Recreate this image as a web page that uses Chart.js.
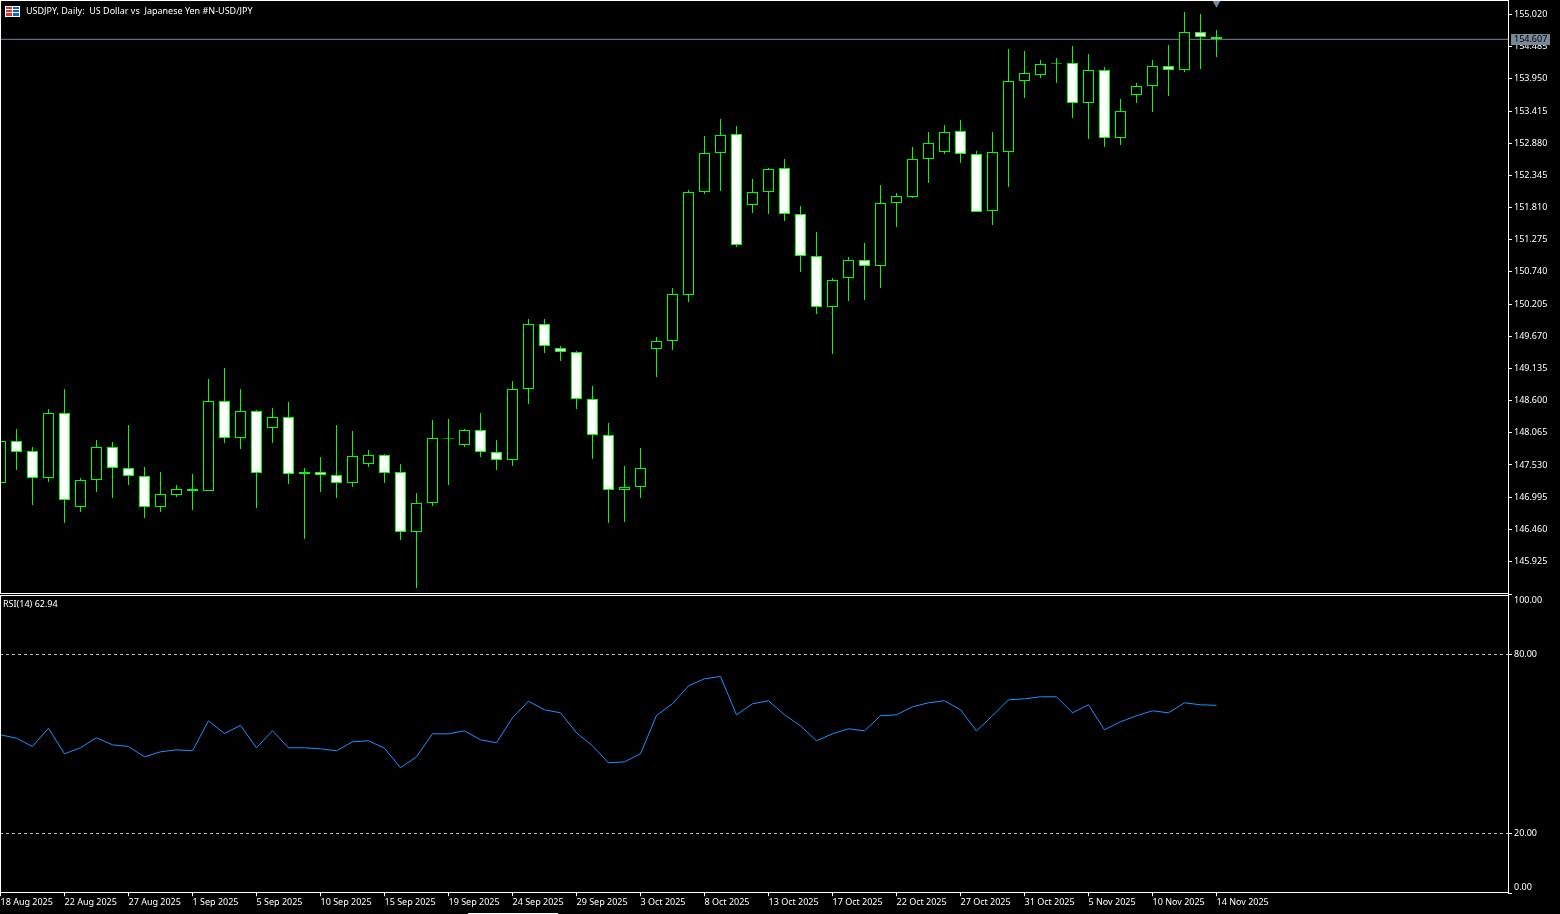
<!DOCTYPE html>
<html>
<head>
<meta charset="utf-8">
<title>USDJPY Daily</title>
<script src="https://cdn.jsdelivr.net/npm/chart.js@4/dist/chart.umd.min.js"></script>
<style>
  html, body { margin: 0; padding: 0; background: #000; overflow: hidden; }
  canvas { position: absolute; left: 0; display: block; }
  #priceChart { top: 0; }
  #rsiChart { top: 594px; }
</style>
</head>
<body>
<canvas id="priceChart" width="1560" height="594"></canvas>
<canvas id="rsiChart" width="1560" height="320"></canvas>
<script>
// values
const opens = [147.231,147.929,147.763,147.314,148.395,146.832,147.281,147.829,147.480,147.347,146.832,147.031,147.131,147.098,148.594,147.979,148.428,148.145,148.328,147.414,147.414,147.364,147.231,147.547,147.697,147.414,146.417,146.899,147.979,147.863,148.112,147.747,147.613,148.794,149.874,149.475,149.409,148.628,148.029,147.115,147.165,149.459,149.592,150.357,152.069,152.717,153.033,151.853,152.069,152.468,151.703,151.005,150.157,150.639,150.939,150.839,151.886,151.986,152.618,152.734,153.083,152.701,151.753,152.734,153.914,154.014,154.214,154.214,153.549,154.097,152.967,153.682,153.831,154.164,154.097,154.729,154.646];
const closes = [147.929,147.747,147.314,148.395,146.949,147.281,147.829,147.480,147.347,146.832,147.048,147.131,147.098,148.594,147.979,148.428,147.397,148.328,147.380,147.380,147.364,147.231,147.680,147.697,147.397,146.417,146.899,147.979,147.966,148.112,147.747,147.613,148.794,149.874,149.509,149.409,148.628,148.029,147.115,147.165,147.480,149.592,150.373,152.069,152.717,153.017,151.188,152.069,152.451,151.703,151.005,150.157,150.606,150.939,150.839,151.886,152.003,152.618,152.884,153.067,152.701,151.737,152.734,153.914,154.047,154.197,154.201,153.549,154.097,152.967,153.416,153.831,154.164,154.097,154.729,154.646,154.607];
const highs = [147.946,148.129,147.829,148.461,148.794,147.314,147.946,147.913,148.195,147.497,147.414,147.198,147.380,148.960,149.143,148.794,148.445,148.478,148.578,147.480,147.663,148.195,148.095,147.780,147.713,147.547,147.065,148.279,148.295,148.129,148.395,147.946,148.927,149.957,149.957,149.509,149.425,148.844,148.229,147.514,147.813,149.659,150.473,152.102,153.000,153.283,153.166,152.285,152.468,152.618,151.836,151.404,150.639,150.988,151.221,152.185,152.052,152.817,153.067,153.183,153.266,152.751,153.067,154.446,154.413,154.263,154.297,154.496,154.363,154.147,153.615,153.881,154.263,154.513,155.062,155.028,154.762];
const lows = [147.231,147.447,146.865,147.247,146.566,146.749,147.081,146.982,147.198,146.649,146.749,146.998,146.782,147.098,147.896,147.796,146.815,147.896,147.214,146.300,147.081,146.982,147.165,147.497,147.231,146.283,145.485,146.849,147.198,147.829,147.663,147.447,147.514,148.544,149.392,149.259,148.461,147.630,146.566,146.583,146.982,148.993,149.442,150.240,152.036,152.086,151.155,151.720,151.703,151.587,150.739,150.041,149.376,150.257,150.274,150.473,151.487,151.969,152.219,152.701,152.551,151.737,151.520,152.152,153.632,153.964,153.881,153.299,152.950,152.817,152.850,153.549,153.399,153.665,154.064,154.114,154.313];
const rsiValues = [53.08,51.94,49.16,55.29,46.71,48.72,52.07,49.73,49.16,45.71,47.38,48.05,47.72,57.77,53.52,56.20,48.72,54.42,48.72,48.72,48.39,47.72,50.73,51.07,48.59,42.02,45.71,53.42,53.42,54.42,51.40,50.40,58.78,64.34,61.46,60.46,53.75,49.39,43.69,44.03,46.71,59.55,63.47,69.51,71.85,72.63,59.79,63.47,64.48,59.79,56.10,51.07,53.42,55.09,54.42,59.45,59.79,62.47,63.81,64.48,61.46,54.42,59.45,64.81,65.15,65.82,65.82,60.46,63.14,54.76,57.44,59.45,61.13,60.46,63.81,63.14,62.94];
const dateLabels = ['18 Aug 2025','22 Aug 2025','27 Aug 2025','1 Sep 2025','5 Sep 2025','10 Sep 2025','15 Sep 2025','19 Sep 2025','24 Sep 2025','29 Sep 2025','3 Oct 2025','8 Oct 2025','13 Oct 2025','17 Oct 2025','22 Oct 2025','27 Oct 2025','31 Oct 2025','5 Nov 2025','10 Nov 2025','14 Nov 2025'];
const priceTicks = [155.020,154.485,153.950,153.415,152.880,152.345,151.810,151.275,150.740,150.205,149.670,149.135,148.600,148.065,147.530,146.995,146.460,145.925];
const rsiTicks = [100,80,20,0];
const rsiLevels = [80,20];
const lastPrice = 154.607;
const lastRsi = 62.94;
const title = 'USDJPY, Daily:  US Dollar vs  Japanese Yen #N-USD/JPY';

const FONT = '"Noto Sans", sans-serif';
const LIME = '#00ff00';
const SLATE = '#778899';
const X_MIN = -0.03125;
const X_MAX = 94.219;
const Y_MIN = 145.402;
const Y_MAX = 155.244;
const LABEL_STEP = 4; // one date label every 4 bars

Chart.defaults.font.family = FONT;
Chart.defaults.font.size = 9;
Chart.defaults.color = '#fff';

const xValues = opens.map((_, i) => i);

// thin rows of white lines round a pane
function hLine(ctx, y, x0, x1) {
  ctx.fillRect(x0, y, x1 - x0, 1);
}

const priceDecor = {
  id: 'priceDecor',
  afterDraw(chart) {
    const { ctx, scales } = chart;
    ctx.save();
    ctx.fillStyle = '#fff';
    hLine(ctx, 0, 0, 1509);
    hLine(ctx, 593, 0, 1509);
    ctx.fillRect(0, 0, 1, 594);

    // small flag icon
    ctx.fillStyle = '#fff';
    ctx.fillRect(5, 6, 15, 11);
    ctx.fillStyle = '#d33';
    ctx.fillRect(6, 7, 6, 2);
    ctx.fillRect(6, 10, 6, 2);
    ctx.fillRect(6, 13, 6, 3);
    ctx.fillStyle = '#1464b4';
    ctx.fillRect(13, 7, 6, 2);
    ctx.fillRect(13, 10, 6, 2);
    ctx.fillRect(13, 13, 6, 3);

    ctx.fillStyle = '#fff';
    ctx.font = '9px ' + FONT;
    ctx.textBaseline = 'middle';
    ctx.textAlign = 'left';
    ctx.fillText(title, 26, 11.5);

    // last price tag on the axis
    const y = scales.y.getPixelForValue(lastPrice);
    ctx.fillStyle = SLATE;
    ctx.fillRect(1511, Math.round(y) - 5, 39, 11);
    ctx.fillStyle = '#000';
    ctx.fillText(lastPrice.toFixed(3), 1514, y + 0.5);
    ctx.restore();
  }
};

const rsiDecor = {
  id: 'rsiDecor',
  afterDraw(chart) {
    const { ctx } = chart;
    ctx.save();
    ctx.fillStyle = '#fff';
    hLine(ctx, 1, 0, 1509);
    hLine(ctx, 298, 0, 1509);
    ctx.fillRect(0, 1, 1, 298);
    ctx.fillRect(468, 319, 90, 1);
    ctx.font = '9px ' + FONT;
    ctx.textBaseline = 'middle';
    ctx.textAlign = 'left';
    ctx.fillText('RSI(14) ' + lastRsi.toFixed(2), 3, 10.5);
    ctx.restore();
  }
};

const sharedOptions = {
  responsive: false,
  animation: false,
  devicePixelRatio: 1,
  events: [],
  plugins: { legend: { display: false }, tooltip: { enabled: false } }
};

new Chart(document.getElementById('priceChart'), {
  type: 'bar',
  data: {
    datasets: [
      {
        type: 'line',
        order: 4,
        data: [{ x: X_MIN, y: lastPrice }, { x: X_MAX, y: lastPrice }],
        borderColor: SLATE,
        borderWidth: 1,
        pointRadius: 0
      },
      {
        type: 'line',
        order: 0,
        data: [{ x: 76, y: 155.205 }],
        clip: false,
        showLine: false,
        pointStyle: 'triangle',
        rotation: 180,
        pointRadius: 4.5,
        pointBorderWidth: 0,
        pointBackgroundColor: SLATE
      },
      {
        order: 3,
        data: xValues.map(i => ({ x: i, y: [lows[i], highs[i]] })),
        grouped: false,
        barPercentage: 1,
        maxBarThickness: 1,
        inflateAmount: 0,
        borderWidth: 0,
        backgroundColor: LIME
      },
      {
        order: 2,
        data: xValues.map(i => ({ x: i, y: [opens[i], closes[i]] })),
        grouped: false,
        barPercentage: 1,
        maxBarThickness: 11,
        inflateAmount: 0,
        borderWidth: 1,
        borderSkipped: false,
        borderColor: LIME,
        backgroundColor: xValues.map(i => closes[i] >= opens[i] ? '#000' : '#fff')
      }
    ]
  },
  options: {
    ...sharedOptions,
    layout: { autoPadding: false, padding: { top: 1, bottom: 1 } },
    scales: {
      x: { type: 'linear', display: false, min: X_MIN, max: X_MAX, offset: false, grid: { offset: false } },
      y: {
        position: 'right',
        min: Y_MIN,
        max: Y_MAX,
        afterFit(scale) { scale.width = 52; scale.paddingTop = 0; scale.paddingBottom = 0; },
        afterBuildTicks(scale) { scale.ticks = priceTicks.map(v => ({ value: v })); },
        border: { display: true, color: '#fff' },
        grid: { drawOnChartArea: false, tickLength: 4, tickColor: '#fff', tickWidth: 1 },
        ticks: { padding: 2, autoSkip: false, color: '#fff', callback: v => v.toFixed(3) }
      }
    }
  },
  plugins: [priceDecor]
});

new Chart(document.getElementById('rsiChart'), {
  type: 'line',
  data: {
    datasets: [
      ...rsiLevels.map(level => ({
        data: [{ x: X_MIN, y: level }, { x: X_MAX, y: level }],
        borderColor: '#c0c0c0',
        borderWidth: 1,
        borderDash: [3, 3],
        pointRadius: 0
      })),
      {
        data: xValues.map(i => ({ x: i, y: rsiValues[i] })),
        borderColor: '#1e90ff',
        borderWidth: 1,
        pointRadius: 0,
        tension: 0
      }
    ]
  },
  options: {
    ...sharedOptions,
    layout: { autoPadding: false, padding: { top: 0.8 } },
    scales: {
      x: {
        type: 'linear',
        min: X_MIN,
        max: X_MAX,
        offset: false,
        afterFit(scale) { scale.height = 20.8; scale.paddingLeft = 0; scale.paddingRight = 0; },
        afterBuildTicks(scale) { scale.ticks = dateLabels.map((_, k) => ({ value: k * LABEL_STEP })); },
        border: { display: false },
        grid: { drawOnChartArea: false, tickLength: 3, tickColor: '#fff', tickWidth: 1 },
        ticks: {
          autoSkip: false,
          maxRotation: 0,
          minRotation: 0,
          align: 'start',
          padding: 1,
          color: '#fff',
          callback: (v, index) => dateLabels[index]
        }
      },
      y: {
        position: 'right',
        min: 0,
        max: 100,
        afterFit(scale) { scale.width = 52; scale.paddingTop = 0; scale.paddingBottom = 0; },
        afterBuildTicks(scale) { scale.ticks = rsiTicks.map(v => ({ value: v })); },
        border: { display: true, color: '#fff' },
        grid: { drawOnChartArea: false, tickLength: 4, tickColor: '#fff', tickWidth: 1 },
        ticks: {
          padding: 2,
          autoSkip: false,
          color: '#fff',
          // the top and bottom labels sit inside the pane, not centred on their tick
          callback: v => v === 100 ? ['', '100.00'] : v === 0 ? ['0.00', ''] : v.toFixed(2)
        }
      }
    }
  },
  plugins: [rsiDecor]
});
</script>
</body>
</html>
